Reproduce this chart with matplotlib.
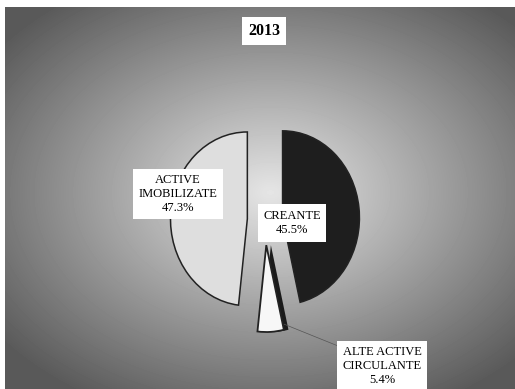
import numpy as np
import matplotlib.pyplot as plt
from matplotlib.patches import Wedge

## chart data
title_str = '2013'
slice_names = ['CREANTE', 'ALTE ACTIVE\nCIRCULANTE', 'ACTIVE\nIMOBILIZATE']
slice_pct = [45.5, 5.4, 47.3]
slice_explode = [0.23, 0.29, 0.23]
slice_colors = ['#1e1e1e', '#f7f7f7', '#dedede']

W, H = 515, 389
fig = plt.figure(figsize=(W / 100, H / 100), dpi=100)
fig.patch.set_facecolor('white')

# background: grey radial gradient (scan look)
bg = fig.add_axes([5 / W, 0, 1 - 5 / W, 1 - 7 / H])
yy, xx = np.mgrid[0:382, 0:510]
d = np.sqrt(((xx - 265) / 310.0) ** 2 + ((yy - 185) / 220.0) ** 2)
shade = np.clip(0.9 - 0.5 * d, 0.35, 0.9)
bg.imshow(shade, cmap='gray', vmin=0, vmax=1, aspect='auto', interpolation='bilinear')
bg.axis('off')

# pie, stretched vertically
ax = fig.add_axes([142 / W, 30 / H, 246 / W, 278 / H])
ax.patch.set_alpha(0)
wedges, _ = ax.pie(slice_pct, explode=slice_explode, colors=slice_colors,
                   startangle=90, counterclock=False,
                   wedgeprops=dict(edgecolor='#222222', linewidth=1.1))

# dark side on the small slice (3d look)
w = wedges[1]
side = Wedge((w.center[0] + 0.06, w.center[1]), w.r, w.theta1, w.theta2,
             facecolor='#1a1a1a', edgecolor='none', zorder=w.get_zorder() - 0.5)
ax.add_patch(side)
w.set_linewidth(1.3)

ax.set_aspect('auto')
ax.set_xlim(-1.6, 1.6)
ax.set_ylim(-1.6, 1.6)
ax.axis('off')

# leader line for the small slice
ax.plot([0.25, 0.95], [-1.2, -1.45], color='#555555', lw=0.5)


def px(x, y):
    return x / W, 1 - y / H


font = dict(family='Liberation Serif', color='black')
box = dict(boxstyle='square,pad=0.45', facecolor='white', edgecolor='none')

fig.text(*px(264, 31), title_str, ha='center', va='center', fontsize=11.5,
         fontweight='bold', bbox=dict(boxstyle='square,pad=0.4', facecolor='white',
                                      edgecolor='none'), **font)

label_xy = [(292, 223), (382, 366), (178, 194)]
for name, pct, (lx, ly) in zip(slice_names, slice_pct, label_xy):
    fig.text(*px(lx, ly), '{}\n{}%'.format(name, pct), ha='center', va='center',
             fontsize=9, linespacing=1.2, bbox=box, **font)

fig.savefig('out.png', dpi=100)
